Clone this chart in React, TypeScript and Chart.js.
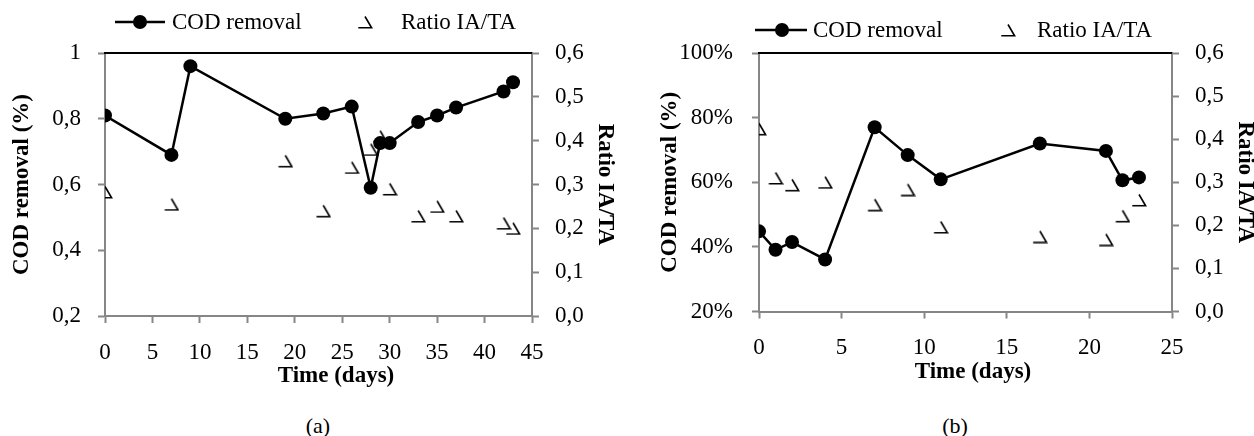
import React, { useEffect, useRef } from "react";
import { Chart, registerables } from "chart.js";

Chart.register(...registerables);

// ---------- Data (a) ----------
const daysA = [0, 7, 9, 19, 23, 26, 28, 29, 30, 33, 35, 37, 42, 43];
const codA = [0.81, 0.69, 0.96, 0.8, 0.816, 0.837, 0.59, 0.726, 0.726, 0.79, 0.81, 0.834, 0.883, 0.911];
const ratioDaysA = [0, 7, 19, 23, 26, 28, 29, 30, 33, 35, 37, 42, 43];
const ratioA = [0.283, 0.255, 0.354, 0.24, 0.339, 0.38, 0.41, 0.29, 0.228, 0.25, 0.228, 0.212, 0.2];

// ---------- Data (b) ----------
const daysB = [0, 1, 2, 4, 7, 9, 11, 17, 21, 22, 23];
const codB = [0.448, 0.391, 0.415, 0.361, 0.77, 0.684, 0.609, 0.72, 0.697, 0.606, 0.615];
const ratioDaysB = [0, 1, 2, 4, 7, 9, 11, 17, 21, 22, 23];
const ratioB = [0.424, 0.31, 0.294, 0.3, 0.248, 0.283, 0.196, 0.174, 0.167, 0.222, 0.259];

const seriesLabels = ["COD removal", "Ratio IA/TA"];
const xTitle = "Time (days)";
const yTitle = "COD removal (%)";
const y1Title = "Ratio IA/TA";
const captions = ["(a)", "(b)"];

const FONT = "'Liberation Serif', 'Times New Roman', serif";
const AXIS_GRAY = "#868686";

function makeMarker(): HTMLCanvasElement {
  const c = document.createElement("canvas");
  c.width = 16;
  c.height = 14;
  const ctx = c.getContext("2d")!;
  ctx.strokeStyle = "#000";
  ctx.lineWidth = 1.6;
  ctx.lineJoin = "miter";
  ctx.beginPath();
  ctx.moveTo(8, 1.5);
  ctx.lineTo(14.6, 12.8);
  ctx.lineTo(1.3, 12.8);
  ctx.stroke();
  return c;
}

type Layout = {
  width: number;
  height: number;
  yWidth: number;
  y1Width: number;
  xHeight: number;
  padBottom: number;
  yTitlePad: number;
  y1TitlePad: number;
  yTickPad: number;
  y1TickPad: number;
  xTickPad: number;
  xTitleX: number;
  xTitleY: number;
  legendY: number;
  lineX1: number;
  lineX2: number;
  circleX: number;
  text1X: number;
  markerX: number;
  text2X: number;
};

function buildChart(
  canvas: HTMLCanvasElement,
  days: number[],
  cod: number[],
  rDays: number[],
  ratio: number[],
  xMax: number,
  yFormat: (v: number) => string,
  L: Layout,
  marker: HTMLCanvasElement
) {
  const decorPlugin = {
    id: "decor",
    afterDraw(chart: any) {
      const ctx = chart.ctx;
      const area = chart.chartArea;
      ctx.save();
      // top border of plot area
      ctx.strokeStyle = "#000";
      ctx.lineWidth = 2;
      ctx.beginPath();
      ctx.moveTo(area.left - 1, area.top);
      ctx.lineTo(area.right, area.top);
      ctx.stroke();
      // x axis title
      ctx.fillStyle = "#000";
      ctx.font = `bold 23px ${FONT}`;
      ctx.textAlign = "center";
      ctx.textBaseline = "middle";
      ctx.fillText(xTitle, L.xTitleX, L.xTitleY);
      // legend item 1
      ctx.lineWidth = 2.5;
      ctx.beginPath();
      ctx.moveTo(L.lineX1, L.legendY);
      ctx.lineTo(L.lineX2, L.legendY);
      ctx.stroke();
      ctx.beginPath();
      ctx.arc(L.circleX, L.legendY, 7, 0, Math.PI * 2);
      ctx.fill();
      ctx.font = `23px ${FONT}`;
      ctx.textAlign = "left";
      ctx.fillText(seriesLabels[0], L.text1X, L.legendY + 1);
      // legend item 2
      ctx.drawImage(marker, L.markerX - marker.width / 2, L.legendY - marker.height / 2);
      ctx.fillText(seriesLabels[1], L.text2X, L.legendY + 1);
      ctx.restore();
    },
  };

  const tickFont = { family: FONT, size: 23 };
  const titleFont = { family: FONT, size: 23, weight: "bold" as const };
  const gridOpts = {
    drawOnChartArea: false,
    drawTicks: true,
    tickLength: 7,
    tickWidth: 2,
    tickColor: AXIS_GRAY,
  };
  const borderOpts = { color: AXIS_GRAY, width: 2 };

  return new Chart(canvas, {
    type: "line",
    data: {
      datasets: [
        {
          label: seriesLabels[0],
          data: days.map((d, i) => ({ x: d, y: cod[i] })),
          yAxisID: "y",
          borderColor: "#000",
          backgroundColor: "#000",
          borderWidth: 2.5,
          pointRadius: 7,
          pointHoverRadius: 7,
          pointBackgroundColor: "#000",
          pointBorderColor: "#000",
          pointBorderWidth: 0,
          tension: 0,
        },
        {
          label: seriesLabels[1],
          data: rDays.map((d, i) => ({ x: d, y: ratio[i] })),
          yAxisID: "y1",
          showLine: false,
          pointStyle: marker as any,
          pointRadius: 7,
          borderColor: "#000",
          backgroundColor: "#000",
        },
      ],
    },
    options: {
      animation: false,
      responsive: false,
      maintainAspectRatio: false,
      events: [],
      layout: { padding: { top: 53, left: 0, right: 0, bottom: L.padBottom } },
      plugins: { legend: { display: false }, tooltip: { enabled: false } },
      scales: {
        x: {
          type: "linear",
          min: 0,
          max: xMax,
          ticks: { stepSize: 5, color: "#000", font: tickFont, padding: L.xTickPad, maxRotation: 0 },
          grid: gridOpts,
          border: borderOpts,
          title: { display: false },
          afterFit(s: any) {
            s.height = L.xHeight;
          },
        },
        y: {
          type: "linear",
          position: "left",
          min: 0.2,
          max: 1,
          ticks: { stepSize: 0.2, color: "#000", font: tickFont, padding: L.yTickPad, callback: (v: any) => yFormat(Number(v)) },
          grid: gridOpts,
          border: borderOpts,
          title: { display: true, text: yTitle, color: "#000", font: titleFont, padding: { top: L.yTitlePad, bottom: 0 } },
          afterFit(s: any) {
            s.width = L.yWidth;
          },
        },
        y1: {
          type: "linear",
          position: "right",
          min: 0,
          max: 0.6,
          ticks: {
            stepSize: 0.1,
            color: "#000",
            font: tickFont,
            padding: L.y1TickPad,
            callback: (v: any) => Number(v).toFixed(1).replace(".", ","),
          },
          grid: gridOpts,
          border: borderOpts,
          title: { display: true, text: y1Title, color: "#000", font: titleFont, padding: { top: L.y1TitlePad, bottom: 0 } },
          afterFit(s: any) {
            s.width = L.y1Width;
          },
        },
      },
    },
    plugins: [decorPlugin],
  } as any);
}

const layoutA: Layout = {
  width: 627,
  height: 400,
  yWidth: 105,
  y1Width: 95,
  xHeight: 75,
  padBottom: 9,
  yTitlePad: 8,
  y1TitlePad: 8,
  yTickPad: 17,
  y1TickPad: 16,
  xTickPad: 16,
  xTitleX: 336,
  xTitleY: 376,
  legendY: 22,
  lineX1: 115,
  lineX2: 165,
  circleX: 140,
  text1X: 172,
  markerX: 365,
  text2X: 401,
};

const B_LEFT = 634;
const layoutB: Layout = {
  width: 620,
  height: 400,
  yWidth: 125,
  y1Width: 82,
  xHeight: 79.5,
  padBottom: 9,
  yTitlePad: 22,
  y1TitlePad: -5,
  yTickPad: 19,
  y1TickPad: 16,
  xTickPad: 16,
  xTitleX: 973 - B_LEFT,
  xTitleY: 372,
  legendY: 30,
  lineX1: 755 - B_LEFT,
  lineX2: 807 - B_LEFT,
  circleX: 782 - B_LEFT,
  text1X: 813 - B_LEFT,
  markerX: 1008 - B_LEFT,
  text2X: 1037 - B_LEFT,
};

const fmtA = (v: number) => {
  const r = Math.round(v * 10) / 10;
  return Number.isInteger(r) ? String(r) : r.toFixed(1).replace(".", ",");
};
const fmtB = (v: number) => `${Math.round(v * 100)}%`;

export default function App() {
  const refA = useRef<HTMLCanvasElement>(null);
  const refB = useRef<HTMLCanvasElement>(null);

  useEffect(() => {
    const marker = makeMarker();
    const a = buildChart(refA.current!, daysA, codA, ratioDaysA, ratioA, 45, fmtA, layoutA, marker);
    const b = buildChart(refB.current!, daysB, codB, ratioDaysB, ratioB, 25, fmtB, layoutB, marker);
    return () => {
      a.destroy();
      b.destroy();
    };
  }, []);

  const capStyle: React.CSSProperties = {
    position: "absolute",
    top: 413,
    width: 60,
    textAlign: "center",
    fontFamily: FONT,
    fontSize: 22,
    lineHeight: "26px",
    color: "#000",
  };

  return (
    <div style={{ position: "fixed", left: 0, top: 0, width: 1254, height: 436, background: "#fff", overflow: "hidden" }}>
      <canvas
        ref={refA}
        width={layoutA.width}
        height={layoutA.height}
        style={{ position: "absolute", left: 0, top: 0, width: layoutA.width, height: layoutA.height }}
      />
      <canvas
        ref={refB}
        width={layoutB.width}
        height={layoutB.height}
        style={{ position: "absolute", left: B_LEFT, top: 0, width: layoutB.width, height: layoutB.height }}
      />
      <div style={{ ...capStyle, left: 318 - 30 }}>{captions[0]}</div>
      <div style={{ ...capStyle, left: 955 - 30 }}>{captions[1]}</div>
    </div>
  );
}
